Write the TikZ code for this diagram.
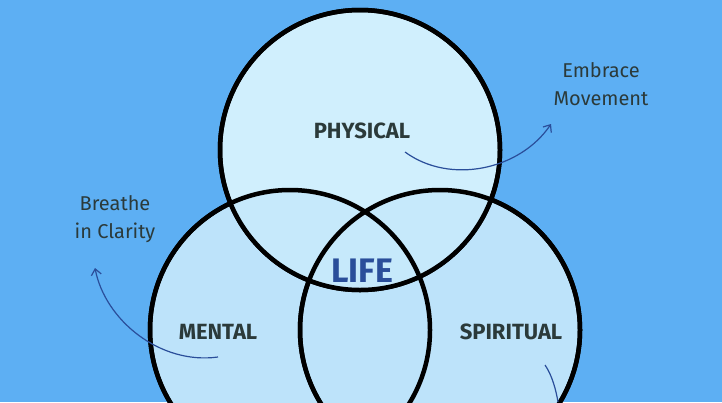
\documentclass[tikz,border=0pt]{standalone}
\usepackage{fontspec}
\setmainfont{Fira Sans}
\usetikzlibrary{arrows.meta}
\definecolor{bg}{HTML}{5DAFF3}
\definecolor{cfill}{HTML}{BDE3FA}
\definecolor{tfill}{HTML}{D0EFFD}
\definecolor{arr}{HTML}{2A4E9A}
\definecolor{txt}{HTML}{2B3A3A}
\tikzset{circ/.style={draw=black,line width=4.5pt,fill=cfill},
lab/.style={font=\bfseries\fontsize{22}{24}\selectfont,text=txt},
note/.style={font=\fontsize{20}{28}\selectfont,text=txt,align=center},
arrw/.style={draw=arr,line width=1.2pt,-{Straight Barb[length=6pt,width=10pt]}}}
\begin{document}
\begin{tikzpicture}[x=1pt,y=-1pt]
\fill[bg] (0,0) rectangle (722,402);
\useasboundingbox (0,0) rectangle (722,402);
\begin{scope}
\clip (0,0) rectangle (722,402);
\draw[circ] (290,330) circle (140);
\draw[circ] (440,330) circle (140);
\draw[circ,fill=tfill] (360,150) circle (140);
\fill[cfill!60!tfill] (360,330) circle (0.1);
\begin{scope}
\clip (360,150) circle (140);
\fill[cfill!50!tfill] (290,330) circle (140);
\fill[cfill!50!tfill] (440,330) circle (140);
\end{scope}
\draw[draw=black,line width=4.5pt] (290,330) circle (140);
\draw[draw=black,line width=4.5pt] (440,330) circle (140);
\draw[draw=black,line width=4.5pt] (360,150) circle (140);
\end{scope}
\node[lab] (phys) at (362,131) {PHYSICAL};
\node[lab] (ment) at (218,332) {MENTAL};
\node[lab] (spir) at (511,332) {SPIRITUAL};
\node[font=\bfseries\fontsize{34}{36}\selectfont,text=arr] (life) at (362,271) {LIFE};
\node[note] (emb) at (601,84) {Embrace\\Movement};
\node[note] (bre) at (115,219) {Breathe\\in Clarity};
\coordinate (a1) at (405,152);
\coordinate (a1e) at (551,124);
\coordinate (a2) at (218,357);
\coordinate (a2e) at (95,268);
\coordinate (a3) at (545,365);
\coordinate (a3e) at (558,402);
\draw[arrw] (a1) .. controls (450,185) and (520,170) .. (a1e);
\draw[arrw] (a2) .. controls (160,365) and (105,320) .. (a2e);
\draw[draw=arr,line width=1.2pt] (a3) .. controls (552,375) and (556,390) .. (a3e);
\end{tikzpicture}
\end{document}
